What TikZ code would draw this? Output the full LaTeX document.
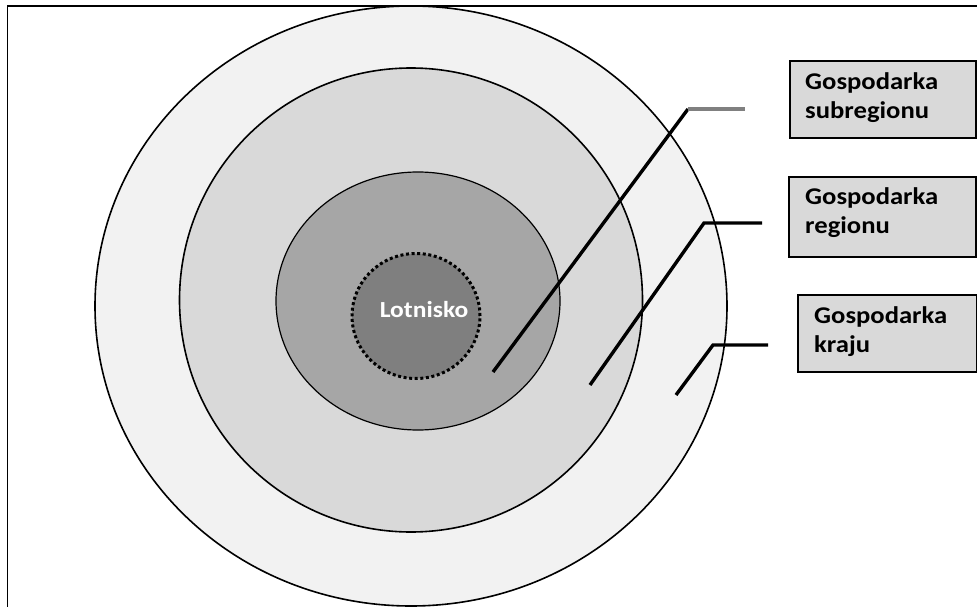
\documentclass[tikz,border=0pt]{standalone}
\usepackage{fontspec}
\setmainfont{Carlito}
\newfontfamily\labfont[FakeStretch=1.11]{Carlito}
\usetikzlibrary{shapes.geometric}
\definecolor{ringA}{HTML}{F2F2F2}
\definecolor{ringB}{HTML}{D9D9D9}
\definecolor{ringC}{HTML}{A6A6A6}
\definecolor{core}{HTML}{7F7F7F}
\definecolor{boxfill}{HTML}{D9D9D9}
\definecolor{leadgray}{HTML}{808080}
\tikzset{
  ring/.style={ellipse, draw=black, line width=1.6pt, inner sep=0pt},
  leader/.style={line width=3.4pt},
  labelbox/.style={draw=black, line width=1.4pt, fill=boxfill, anchor=north west, inner sep=0pt},
  labeltext/.style={anchor=north west, align=left, font=\labfont\fontsize{24}{29}\selectfont\bfseries, inner sep=0pt}
}
\begin{document}
\begin{tikzpicture}[x=1pt,y=-1pt]
\useasboundingbox (0,0) rectangle (977,607);
\clip (0,0) rectangle (977,607);
\fill[white] (0,0) rectangle (977,607);
% frame
\draw[line width=1.5pt] (7.5,640) -- (7.5,6) -- (1000,6);
% rings
\node[ring, fill=ringA, minimum width=632pt, minimum height=600pt] (outer) at (411,306) {};
\node[ring, fill=ringB, minimum width=463pt, minimum height=464pt] (middle) at (411,300) {};
\node[ring, fill=ringC, line width=1.2pt, minimum width=284pt, minimum height=258pt] (inner) at (418,301) {};
\node[ellipse, fill=core, draw=black, line width=3pt, dash pattern=on 3pt off 2.6pt, minimum width=128pt, minimum height=125pt, inner sep=0pt] (airport) at (416,316) {};
\node[text=white, font=\labfont\fontsize{23}{27}\selectfont\bfseries, inner sep=0pt] (airportlabel) at (424,310) {Lotnisko};
% leader lines
\coordinate (a1) at (493,372);
\coordinate (a2) at (688,109);
\coordinate (a3) at (745,109);
\coordinate (b1) at (590,385);
\coordinate (b2) at (704,223);
\coordinate (b3) at (762,223);
\coordinate (c1) at (676,395);
\coordinate (c2) at (713,345);
\coordinate (c3) at (768,345);
\draw[leader] (a1) -- (a2);
\draw[leader, leadgray] (a2) -- (a3);
\draw[leader, line join=miter] (b1) -- (b2) -- (b3);
\draw[leader, line join=miter] (c1) -- (c2) -- (c3);
% label boxes
\draw[labelbox] (790,61) rectangle (976,138);
\node[labeltext] (t1) at (805,72) {Gospodarka\\subregionu};
\draw[labelbox] (789,177) rectangle (976,257);
\node[labeltext] (t2) at (805,187) {Gospodarka\\regionu};
\draw[labelbox] (798,295) rectangle (977,372);
\node[labeltext] (t3) at (814,306) {Gospodarka\\kraju};
\end{tikzpicture}
\end{document}
